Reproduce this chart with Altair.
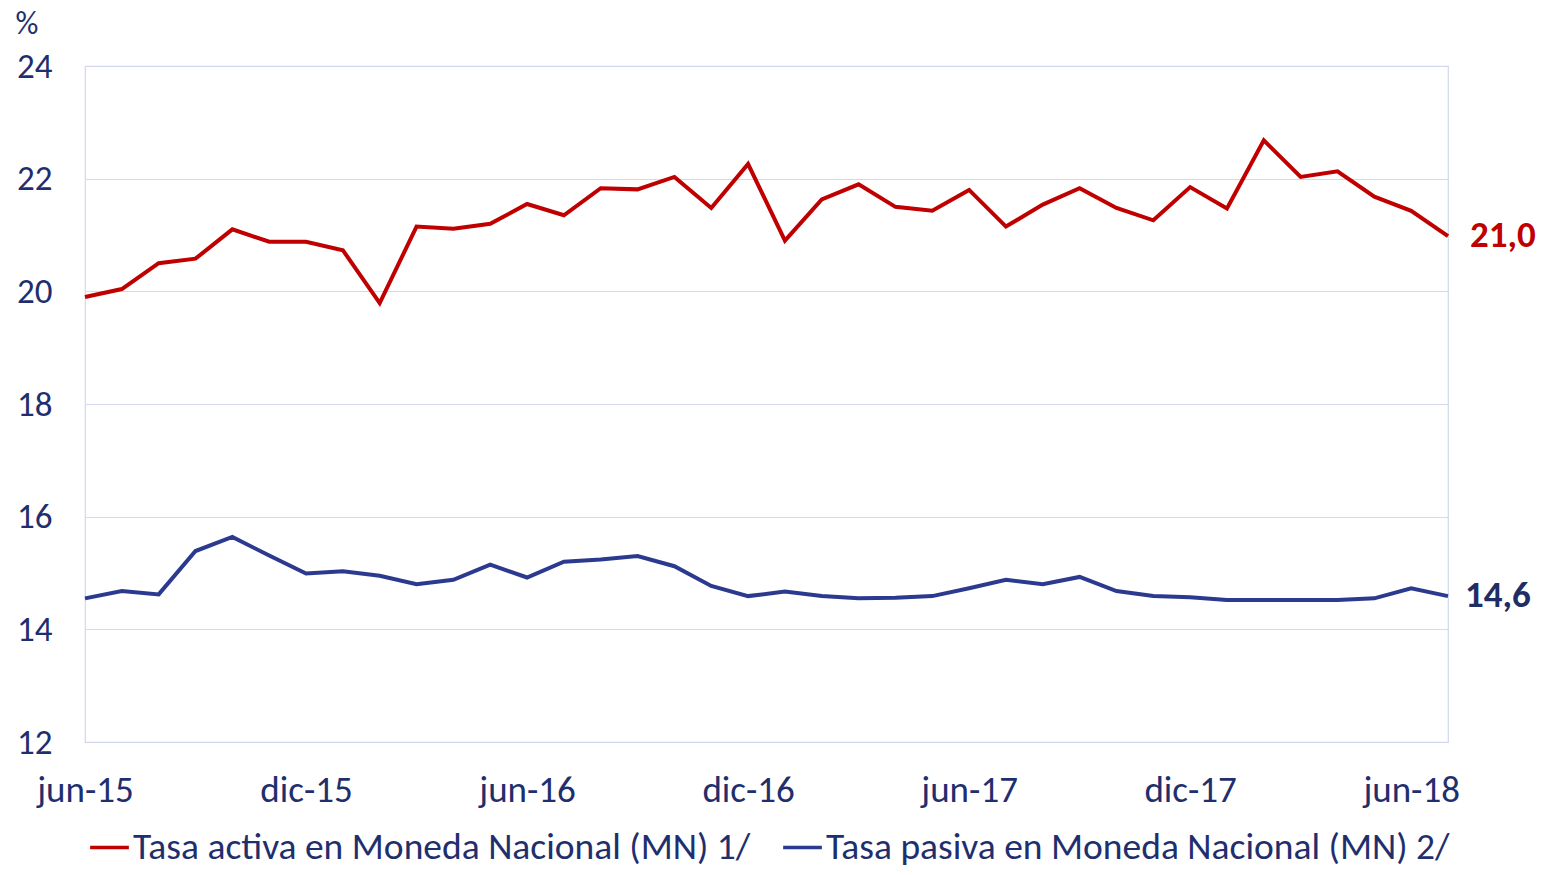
import altair as alt
import pandas as pd

meses = ["jun-15", "jul-15", "ago-15", "sep-15", "oct-15", "nov-15", "dic-15",
         "ene-16", "feb-16", "mar-16", "abr-16", "may-16", "jun-16", "jul-16",
         "ago-16", "sep-16", "oct-16", "nov-16", "dic-16", "ene-17", "feb-17",
         "mar-17", "abr-17", "may-17", "jun-17", "jul-17", "ago-17", "sep-17",
         "oct-17", "nov-17", "dic-17", "ene-18", "feb-18", "mar-18", "abr-18",
         "may-18", "jun-18", "jul-18"]

activa = [19.90, 20.04, 20.50, 20.58, 21.10, 20.88, 20.88, 20.73, 19.79, 21.15,
          21.11, 21.20, 21.55, 21.35, 21.83, 21.81, 22.03, 21.48, 22.26, 20.90,
          21.63, 21.90, 21.50, 21.43, 21.80, 21.15, 21.54, 21.83, 21.48, 21.26,
          21.85, 21.47, 22.68, 22.03, 22.13, 21.68, 21.43, 20.98]

pasiva = [14.55, 14.68, 14.62, 15.39, 15.64, 15.31, 14.99, 15.03, 14.95, 14.80,
          14.88, 15.15, 14.92, 15.20, 15.24, 15.30, 15.12, 14.77, 14.59, 14.67,
          14.59, 14.55, 14.56, 14.59, 14.73, 14.88, 14.80, 14.93, 14.68, 14.59,
          14.57, 14.52, 14.52, 14.52, 14.52, 14.55, 14.73, 14.59]

series = ["Tasa activa en Moneda Nacional (MN) 1/",
          "Tasa pasiva en Moneda Nacional (MN) 2/"]
etiquetas_finales = ["21,0", "14,6"]
ticks_x = ["jun-15", "dic-15", "jun-16", "dic-16", "jun-17", "dic-17", "jun-18"]
ticks_y = [12, 14, 16, 18, 20, 22, 24]

rows = []
for m, a, p in zip(meses, activa, pasiva):
    rows.append({"mes": m, "serie": series[0], "valor": a})
    rows.append({"mes": m, "serie": series[1], "valor": p})
df = pd.DataFrame(rows)

df_fin = pd.DataFrame({
    "mes": [meses[-1], meses[-1]],
    "serie": series,
    "valor": [activa[-1], pasiva[-1]],
    "etiqueta": etiquetas_finales,
})

FONT = "Carlito, Calibri, Lato, sans-serif"
NAVY = "#1F2F6E"
LABEL_NAVY = "#1F2D66"
RED = "#C00000"
BLUE = "#2B3A8F"
GRID = "#D3D8EF"

x_enc = alt.X("mes:O", sort=meses,
              scale=alt.Scale(type="point", padding=0),
              axis=alt.Axis(values=ticks_x, labelAngle=0, title=None,
                            ticks=False, domain=False, grid=False,
                            labelPadding=30, labelFontSize=37,
                            labelColor=NAVY, labelFont=FONT))
y_enc = alt.Y("valor:Q",
              scale=alt.Scale(domain=[12, 24], nice=False, zero=False),
              axis=alt.Axis(values=ticks_y, format="d", title="%", titleAngle=0,
                            titleX=-70, titleY=-58, titleAlign="left",
                            titleBaseline="top", titleFontWeight="normal",
                            titleFontSize=32, titleColor=NAVY, titleFont=FONT,
                            ticks=False, domain=False, grid=True,
                            gridColor=GRID, gridWidth=1.2,
                            labelPadding=33, labelFontSize=35,
                            labelColor=NAVY, labelFont=FONT))

lineas = alt.Chart(df).mark_line(strokeWidth=4).encode(
    x=x_enc,
    y=y_enc,
    color=alt.Color("serie:N", sort=series,
                    scale=alt.Scale(domain=series, range=[RED, BLUE]),
                    legend=alt.Legend(title=None, orient="none",
                                      direction="horizontal",
                                      legendX=3, legendY=760,
                                      symbolType="stroke", symbolSize=1500,
                                      symbolStrokeWidth=3.5, labelOffset=2,
                                      columnPadding=25, padding=0,
                                      labelFontSize=37.5, labelColor=NAVY,
                                      labelFont=FONT, labelLimit=1000)),
)

texto_activa = alt.Chart(df_fin).transform_filter(
    alt.datum.serie == series[0]
).mark_text(
    align="left", baseline="middle", dx=22, fontSize=37,
    fontWeight="bold", font=FONT, color=RED,
).encode(
    x=alt.X("mes:O", sort=meses),
    y=alt.Y("valor:Q"),
    text="etiqueta:N",
)

texto_pasiva = alt.Chart(df_fin).transform_filter(
    alt.datum.serie == series[1]
).mark_text(
    align="left", baseline="middle", dx=17, fontSize=37,
    fontWeight="bold", font=FONT, color=LABEL_NAVY,
).encode(
    x=alt.X("mes:O", sort=meses),
    y=alt.Y("valor:Q"),
    text="etiqueta:N",
)

chart = alt.layer(lineas, texto_activa, texto_pasiva).properties(
    width=1363, height=676,
    autosize=alt.AutoSizeParams(type="none"),
    padding={"left": 77, "top": 58, "right": 89, "bottom": 125},
    background="white",
).configure_view(stroke=GRID, strokeWidth=1.2)

chart.save("out.html", embed_options={"renderer": "svg", "actions": False})
